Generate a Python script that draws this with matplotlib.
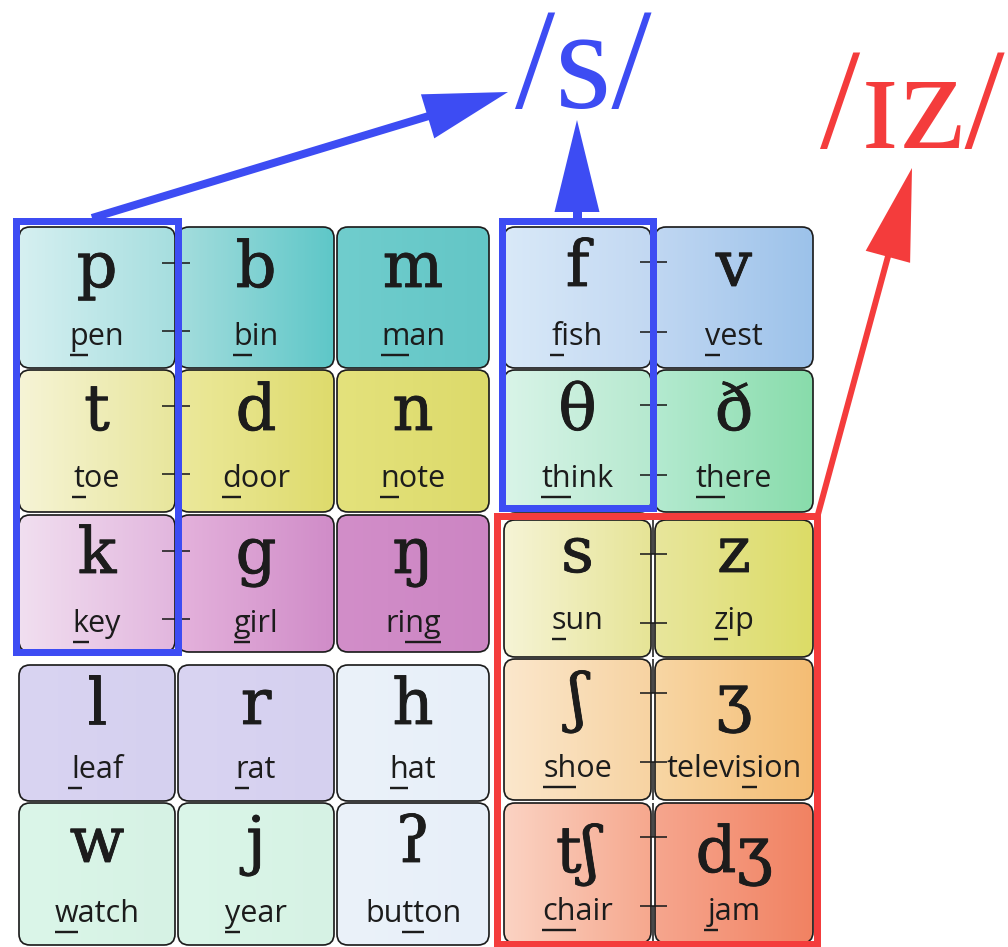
import numpy as np
import matplotlib.pyplot as plt
import matplotlib.patheffects as pe
from matplotlib.patches import FancyBboxPatch, Polygon, Rectangle
from matplotlib.colors import LinearSegmentedColormap

# chart content
left_symbols = [['p', 'b', 'm'], ['t', 'd', 'n'], ['k', 'g', 'ŋ'],
                ['l', 'r', 'h'], ['w', 'j', 'ʔ']]
left_words = [['pen', 'bin', 'man'], ['toe', 'door', 'note'], ['key', 'girl', 'ring'],
              ['leaf', 'rat', 'hat'], ['watch', 'year', 'button']]
left_marks = [[(0, 1), (0, 1), (0, 1)], [(0, 1), (0, 1), (0, 1)], [(0, 1), (0, 1), (2, 4)],
              [(0, 1), (0, 1), (0, 1)], [(0, 1), (0, 1), (2, 4)]]
left_colors = [
    [('#d6f0f1', '#a6dedf'), ('#a4dddd', '#5ec7c8'), ('#70cdcd', '#63c6c6')],
    [('#f6f4d6', '#e8e69c'), ('#ece99c', '#dedb6c'), ('#e4e27c', '#dcda6a')],
    [('#f1dff0', '#e2b6de'), ('#e4b2dc', '#d08cc8'), ('#d28ec9', '#cc85c3')],
    [('#d9d4f2', '#d5d0ef'), ('#d9d4f2', '#d5d0ef'), ('#ebf2fa', '#e7eff9')],
    [('#dbf6e9', '#d6f2e4'), ('#dbf6e9', '#d6f2e4'), ('#ebf2fa', '#e7eff9')],
]

right_symbols = [['f', 'v'], ['θ', 'ð'], ['s', 'z'], ['ʃ', 'ʒ'], ['tʃ', 'dʒ']]
right_words = [['fish', 'vest'], ['think', 'there'], ['sun', 'zip'],
               ['shoe', 'television'], ['chair', 'jam']]
right_marks = [[(0, 1), (0, 1)], [(0, 2), (0, 2)], [(0, 1), (0, 1)],
               [(0, 2), (6, 7)], [(0, 2), (0, 1)]]
right_colors = [
    [('#d9e9f8', '#c2d8f2'), ('#c0d7f2', '#9cc2ea')],
    [('#d9f4e8', '#b6e9cf'), ('#b4ead0', '#88dcab')],
    [('#f6f4d6', '#e6e496'), ('#e8e69c', '#dcdc66')],
    [('#fbe7cc', '#f7d3a2'), ('#f8d6a4', '#f4bd74')],
    [('#fbd3c3', '#f6a88e'), ('#f6a68e', '#f18262')],
]

voiceless_label = '/s/'
sibilant_label = '/ɪz/'

# layout (pixels)
left_cols = [(19, 175), (178, 334), (337, 489)]
left_rows = [(227, 368), (370, 512), (515, 652), (665, 801), (803, 945)]
left_sym_off = [60, 60, 58, 59, 59]
left_word_off = [118, 117, 117, 113, 119]
right_cols = [(504, 651), (655, 813)]
right_rows = [(227, 368), (370, 512), (520, 657), (659, 800), (803, 943)]
right_sym_off = [59, 60, 52, 60, 69]
right_word_off = [118, 117, 109, 118, 117]

BLUE = '#3d4cf3'
RED = '#f43c3c'
INK = '#1c1c1c'
PX = 0.72  # points per pixel at dpi 100

fig = plt.figure(figsize=(10.08, 9.47), dpi=100)
ax = fig.add_axes([0, 0, 1, 1])
ax.set_xlim(0, 1008)
ax.set_ylim(947, 0)
ax.axis('off')
renderer = fig.canvas.get_renderer()

sym_kw = dict(family=['DejaVu Serif'], fontsize=46, color=INK,
              path_effects=[pe.withStroke(linewidth=0.6, foreground=INK)])
word_kw = dict(family=['Open Sans', 'DejaVu Sans'], fontsize=22, color=INK)


def text_width(s):
    if not s:
        return 0.0
    t = ax.text(0, 0, s, **word_kw)
    w = t.get_window_extent(renderer).width
    t.remove()
    return w


def cell(x0, x1, y0, y1, colors, sym, word, mark, sym_off, word_off):
    box = FancyBboxPatch((x0, y0), x1 - x0, y1 - y0,
                         boxstyle='round,pad=0,rounding_size=11',
                         facecolor='none', edgecolor=INK, lw=1.7 * PX, zorder=3)
    ax.add_patch(box)
    cmap = LinearSegmentedColormap.from_list('g', list(colors))
    im = ax.imshow(np.linspace(0, 1, 256).reshape(1, -1), cmap=cmap,
                   extent=[x0, x1, y1, y0], aspect='auto', zorder=2)
    im.set_clip_path(box)
    cx = (x0 + x1) / 2
    ax.text(cx, y0 + sym_off, sym, ha='center', va='baseline', zorder=4, **sym_kw)
    ax.text(cx, y0 + word_off, word, ha='center', va='baseline', zorder=4, **word_kw)
    # underline the letters that carry the sound
    full = text_width(word)
    left = cx - full / 2
    u0 = left + text_width(word[:mark[0]])
    u1 = left + text_width(word[:mark[1]])
    if u1 - u0 < 14:
        m = (u0 + u1) / 2
        u0, u1 = m - 7, m + 7
    uy = y0 + word_off + 10
    ax.plot([u0, u1], [uy, uy], color=INK, lw=2.4 * PX, zorder=4,
            solid_capstyle='butt')


for r, (y0, y1) in enumerate(left_rows):
    for c, (x0, x1) in enumerate(left_cols):
        cell(x0, x1, y0, y1, left_colors[r][c], left_symbols[r][c], left_words[r][c],
             left_marks[r][c], left_sym_off[r], left_word_off[r])

for r, (y0, y1) in enumerate(right_rows):
    for c, (x0, x1) in enumerate(right_cols):
        cell(x0, x1, y0, y1, right_colors[r][c], right_symbols[r][c], right_words[r][c],
             right_marks[r][c], right_sym_off[r], right_word_off[r])

# voiceless/voiced pair connectors
tick_kw = dict(color=INK, lw=1.6 * PX, zorder=5, solid_capstyle='butt')
for (y0, y1) in left_rows[:3]:
    for dy in (36, 104):
        ax.plot([162, 190], [y0 + dy, y0 + dy], **tick_kw)
for (y0, y1) in right_rows[:2]:
    for dy in (35, 105):
        ax.plot([640, 667], [y0 + dy, y0 + dy], **tick_kw)
for (y0, y1) in right_rows[2:]:
    xm = 653
    ya = y0 + 34
    yb = y0 + 103
    ax.plot([xm, xm], [y0, ya], **tick_kw)
    ax.plot([640, 667], [ya, ya], **tick_kw)
    ax.plot([640, 667], [yb, yb], **tick_kw)
    ax.plot([xm, xm], [yb, y1], **tick_kw)

# group frames
ax.add_patch(Rectangle((16, 221), 162, 431, fill=False, edgecolor=BLUE, lw=7 * PX, zorder=6))
ax.add_patch(Rectangle((502, 221), 151, 287, fill=False, edgecolor=BLUE, lw=7 * PX, zorder=6))
ax.add_patch(Rectangle((497, 516), 320, 428, fill=False, edgecolor=RED, lw=7 * PX, zorder=7))


def arrow(x0, y0, x1, y1, hl, hw, color, lw):
    d = np.array([x1 - x0, y1 - y0], float)
    u = d / np.hypot(*d)
    n = np.array([-u[1], u[0]])
    base = np.array([x1, y1]) - u * hl
    ax.plot([x0, base[0] + u[0] * 2], [y0, base[1] + u[1] * 2], color=color,
            lw=lw * PX, zorder=6, solid_capstyle='butt')
    tri = [(x1, y1), tuple(base + n * hw / 2), tuple(base - n * hw / 2)]
    ax.add_patch(Polygon(tri, closed=True, facecolor=color, edgecolor='none', zorder=6))


arrow(92, 218, 508, 92, 84, 46, BLUE, 8)
arrow(577, 222, 577, 120, 92, 45, BLUE, 9)
arrow(817, 518, 912, 168, 92, 46, RED, 6)

# result labels
serif = ['Liberation Serif', 'DejaVu Serif']
ax.text(515, 108, voiceless_label, ha='left', va='baseline', family=serif,
        fontsize=104, color=BLUE, zorder=6)
ax.text(820, 148, sibilant_label, ha='left', va='baseline', family=serif,
        fontsize=104, color=RED, zorder=6)

fig.savefig('out.png', dpi=100)
